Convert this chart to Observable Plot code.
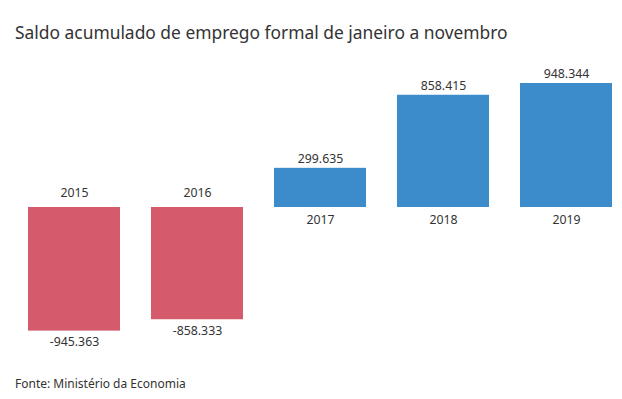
<!DOCTYPE html>
<html>
<head>
<meta charset="utf-8">
<script src="https://cdn.jsdelivr.net/npm/d3@7"></script>
<script src="https://cdn.jsdelivr.net/npm/@observablehq/plot@0.6"></script>
<style>
  html, body { margin: 0; padding: 0; background: #fff; }
  body { width: 622px; height: 399px; position: relative; font-family: "Noto Sans", sans-serif; color: #333; }
  #title { position: absolute; left: 15px; top: 20px; font-size: 17.4px; font-weight: 400; color: #333; white-space: nowrap; }
  #chart { position: absolute; left: 0; top: 50px; }
  #caption { position: absolute; left: 15px; top: 375px; font-size: 12px; color: #333; }
</style>
</head>
<body>
<div id="title">Saldo acumulado de emprego formal de janeiro a novembro</div>
<div id="chart"></div>
<div id="caption">Fonte: Ministério da Economia</div>
<script>
const years = ["2015", "2016", "2017", "2018", "2019"];
const saldo = [-945363, -858333, 299635, 858415, 948344];

const data = years.map((y, i) => ({year: y, value: saldo[i]}));
const fmt = d3.formatLocale({decimal: ",", thousands: ".", grouping: [3], currency: ["R$", ""], minus: "-"}).format(",");

const H = 310;
const zeroPx = 157;
const pxPerUnit = 124 / 948344;
const yMax = zeroPx / pxPerUnit;
const yMin = -(H - zeroPx) / pxPerUnit;

const chart = Plot.plot({
  width: 622,
  height: H,
  marginTop: 0,
  marginBottom: 0,
  marginLeft: 27,
  marginRight: 9,
  style: {fontFamily: "Noto Sans, sans-serif", fontSize: "12.3px", color: "#333", background: "#fff"},
  x: {domain: years, paddingInner: 0.255, paddingOuter: 0, axis: null},
  y: {domain: [yMin, yMax], axis: null},
  marks: [
    Plot.barY(data, {x: "year", y: "value", fill: d => d.value < 0 ? "#d45a6c" : "#3c8bcb"}),
    Plot.text(data.filter(d => d.value >= 0), {x: "year", y: 0, text: "year", dy: 13, fill: "#333"}),
    Plot.text(data.filter(d => d.value < 0), {x: "year", y: 0, text: "year", dy: -14, fill: "#333"}),
    Plot.text(data.filter(d => d.value >= 0), {x: "year", y: "value", text: d => fmt(d.value), dy: -9, fill: "#333"}),
    Plot.text(data.filter(d => d.value < 0), {x: "year", y: "value", text: d => fmt(d.value), dy: 11, fill: "#333"})
  ]
});
document.getElementById("chart").appendChild(chart);
</script>
</body>
</html>
